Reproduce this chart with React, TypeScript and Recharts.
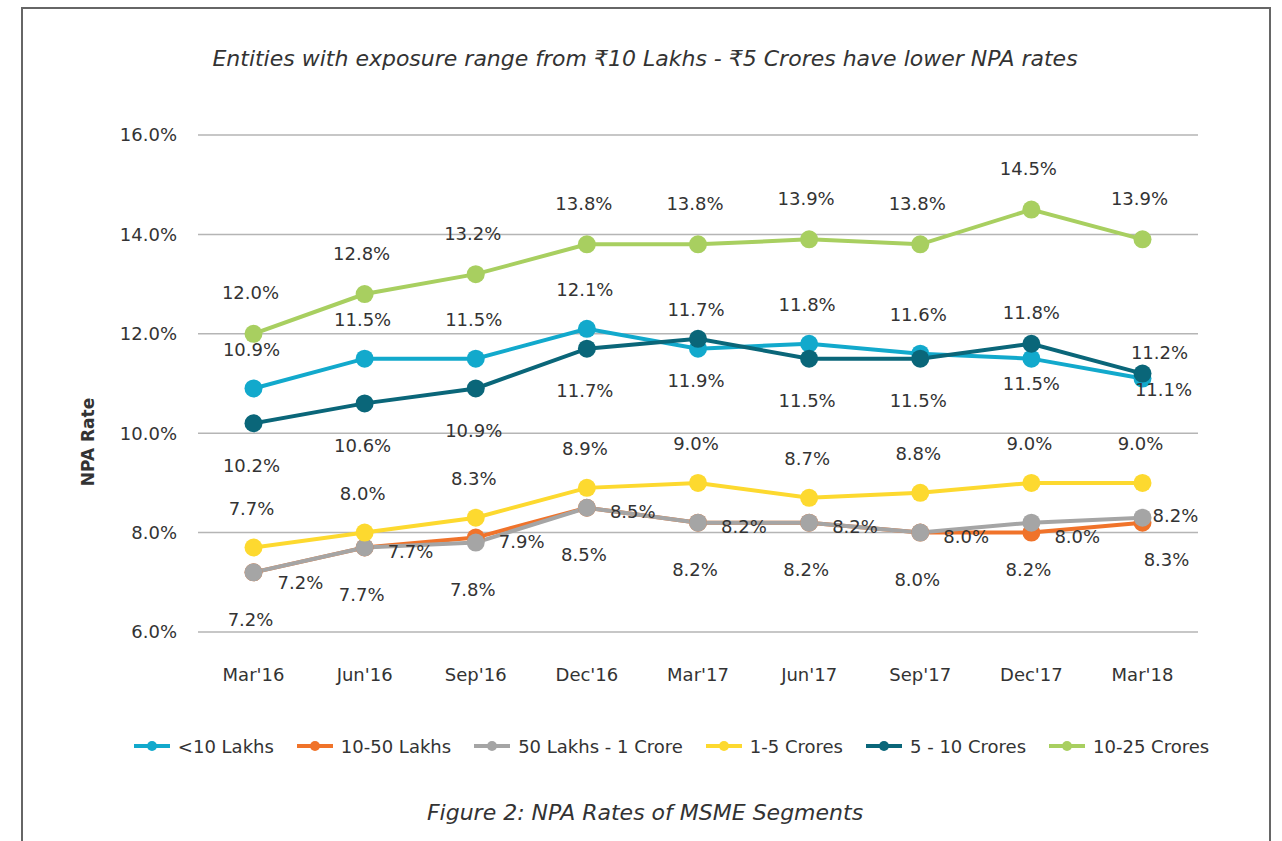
import React from 'react';
import { LineChart, Line, XAxis, YAxis, CartesianGrid } from 'recharts';

const categories = ["Mar'16", "Jun'16", "Sep'16", "Dec'16", "Mar'17", "Jun'17", "Sep'17", "Dec'17", "Mar'18"];
const lt10Lakhs = [10.9, 11.5, 11.5, 12.1, 11.7, 11.8, 11.6, 11.5, 11.1];
const l10to50Lakhs = [7.2, 7.7, 7.9, 8.5, 8.2, 8.2, 8.0, 8.0, 8.2];
const l50to1Crore = [7.2, 7.7, 7.8, 8.5, 8.2, 8.2, 8.0, 8.2, 8.3];
const c1to5Crores = [7.7, 8.0, 8.3, 8.9, 9.0, 8.7, 8.8, 9.0, 9.0];
const c5to10Crores = [10.2, 10.6, 10.9, 11.7, 11.9, 11.5, 11.5, 11.8, 11.2];
const c10to25Crores = [12.0, 12.8, 13.2, 13.8, 13.8, 13.9, 13.8, 14.5, 13.9];
const yTicks = [6, 8, 10, 12, 14, 16];

const seriesNames = ['<10 Lakhs', '10-50 Lakhs', '50 Lakhs - 1 Crore', '1-5 Crores', '5 - 10 Crores', '10-25 Crores'];
const seriesKeys = ['s0', 's1', 's2', 's3', 's4', 's5'];
const seriesColors = ['#12a9cc', '#f0732a', '#a5a5a5', '#fdd92f', '#0a6679', '#a8cf60'];
const seriesValues = [lt10Lakhs, l10to50Lakhs, l50to1Crore, c1to5Crores, c5to10Crores, c10to25Crores];

const data = categories.map((c, i) => {
  const row: any = { cat: c };
  seriesKeys.forEach((k, s) => { row[k] = seriesValues[s][i]; });
  return row;
});

const FONT = '"DejaVu Sans", "Noto Sans", sans-serif';
const TEXT = '#333333';

type Place = { dx: number; dy: number; anchor: 'middle' | 'start' };

function placeFor(s: number, i: number): Place {
  switch (s) {
    case 0:
      if (i === 7) return { dx: 0, dy: 25, anchor: 'middle' };
      if (i === 8) return { dx: 21, dy: 11, anchor: 'middle' };
      return { dx: -2, dy: -39, anchor: 'middle' };
    case 1:
      if (i === 0) return { dx: 24, dy: 10, anchor: 'start' };
      if (i === 8) return { dx: 10, dy: -7, anchor: 'start' };
      return { dx: 23, dy: 4, anchor: 'start' };
    case 2:
      if (i === 8) return { dx: 24, dy: 42, anchor: 'middle' };
      return { dx: -3, dy: 47, anchor: 'middle' };
    case 3:
      return { dx: -2, dy: -39, anchor: 'middle' };
    case 4:
      if (i === 7) return { dx: 0, dy: -31, anchor: 'middle' };
      if (i === 8) return { dx: 17, dy: -21, anchor: 'middle' };
      return { dx: -2, dy: 42, anchor: 'middle' };
    default:
      return { dx: -3, dy: -41, anchor: 'middle' };
  }
}

const makeLabel = (s: number) => (props: any) => {
  const { x, y, value, index } = props;
  if (x == null || y == null) return null;
  const p = placeFor(s, index);
  return (
    <text
      key={`l-${s}-${index}`}
      x={x + p.dx}
      y={y + p.dy}
      textAnchor={p.anchor}
      dominantBaseline="central"
      fontSize={18}
      fontFamily={FONT}
      fill={TEXT}
    >
      {Number(value).toFixed(1)}%
    </text>
  );
};

export default function App() {
  return (
    <div style={{ position: 'absolute', left: 0, top: 0, width: 1282, height: 841, background: '#fff', overflow: 'hidden' }}>
      <div
        style={{
          position: 'absolute',
          left: 21,
          top: 7,
          width: 1246,
          height: 900,
          borderLeft: '2.5px solid #666',
          borderRight: '2.5px solid #666',
          borderTop: '2.5px solid #666',
        }}
      />
      <div
        style={{
          position: 'absolute',
          left: 0,
          width: 1290,
          top: 46,
          textAlign: 'center',
          fontFamily: FONT,
          fontStyle: 'italic',
          fontSize: 22,
          color: TEXT,
          whiteSpace: 'nowrap',
        }}
      >
        Entities with exposure range from ₹10 Lakhs - ₹5 Crores have lower NPA rates
      </div>
      <div
        style={{
          position: 'absolute',
          left: 88,
          top: 442,
          transform: 'translate(-50%, -50%) rotate(-90deg)',
          fontFamily: FONT,
          fontWeight: 700,
          fontSize: 17,
          color: TEXT,
          whiteSpace: 'nowrap',
        }}
      >
        NPA Rate
      </div>
      <div style={{ position: 'absolute', left: 0, top: 0 }}>
        <LineChart
          width={1282}
          height={841}
          data={data}
          margin={{ top: 135, right: 84, bottom: 149, left: 118 }}
        >
          <CartesianGrid horizontal vertical={false} stroke="#b5b5b5" strokeWidth={1.5} />
          <XAxis
            dataKey="cat"
            axisLine={false}
            tickLine={false}
            tickSize={0}
            tickMargin={36}
            height={60}
            padding={{ left: 55.5, right: 55.5 }}
            interval={0}
            tick={{ fontSize: 18, fontFamily: FONT, fill: TEXT }}
          />
          <YAxis
            type="number"
            domain={[6, 16]}
            ticks={yTicks}
            width={80}
            axisLine={false}
            tickLine={false}
            tickSize={0}
            tickMargin={21}
            tickFormatter={(v: number) => `${v.toFixed(1)}%`}
            tick={{ fontSize: 18, fontFamily: FONT, fill: TEXT }}
          />
          {seriesKeys.map((k, s) => (
            <Line
              key={k}
              dataKey={k}
              name={seriesNames[s]}
              type="linear"
              stroke={seriesColors[s]}
              strokeWidth={4}
              dot={{ r: 9, fill: seriesColors[s], stroke: seriesColors[s], strokeWidth: 0 }}
              activeDot={false}
              isAnimationActive={false}
              label={makeLabel(s)}
            />
          ))}
        </LineChart>
      </div>
      <div
        style={{
          position: 'absolute',
          top: 734,
          left: 60,
          width: 1222,
          display: 'flex',
          justifyContent: 'center',
          alignItems: 'center',
          gap: 22,
          fontFamily: FONT,
          fontSize: 18,
          color: TEXT,
          whiteSpace: 'nowrap',
        }}
      >
        {seriesNames.map((n, i) => (
          <div key={n} style={{ display: 'flex', alignItems: 'center', height: 24 }}>
            <svg width={38} height={14} style={{ marginRight: 7 }}>
              <line x1={1} y1={7} x2={37} y2={7} stroke={seriesColors[i]} strokeWidth={4} />
              <circle cx={19} cy={7} r={5} fill={seriesColors[i]} />
            </svg>
            <span>{n}</span>
          </div>
        ))}
      </div>
      <div
        style={{
          position: 'absolute',
          left: 0,
          width: 1290,
          top: 800,
          textAlign: 'center',
          fontFamily: FONT,
          fontStyle: 'italic',
          fontSize: 22,
          color: TEXT,
          whiteSpace: 'nowrap',
        }}
      >
        Figure 2: NPA Rates of MSME Segments
      </div>
    </div>
  );
}
